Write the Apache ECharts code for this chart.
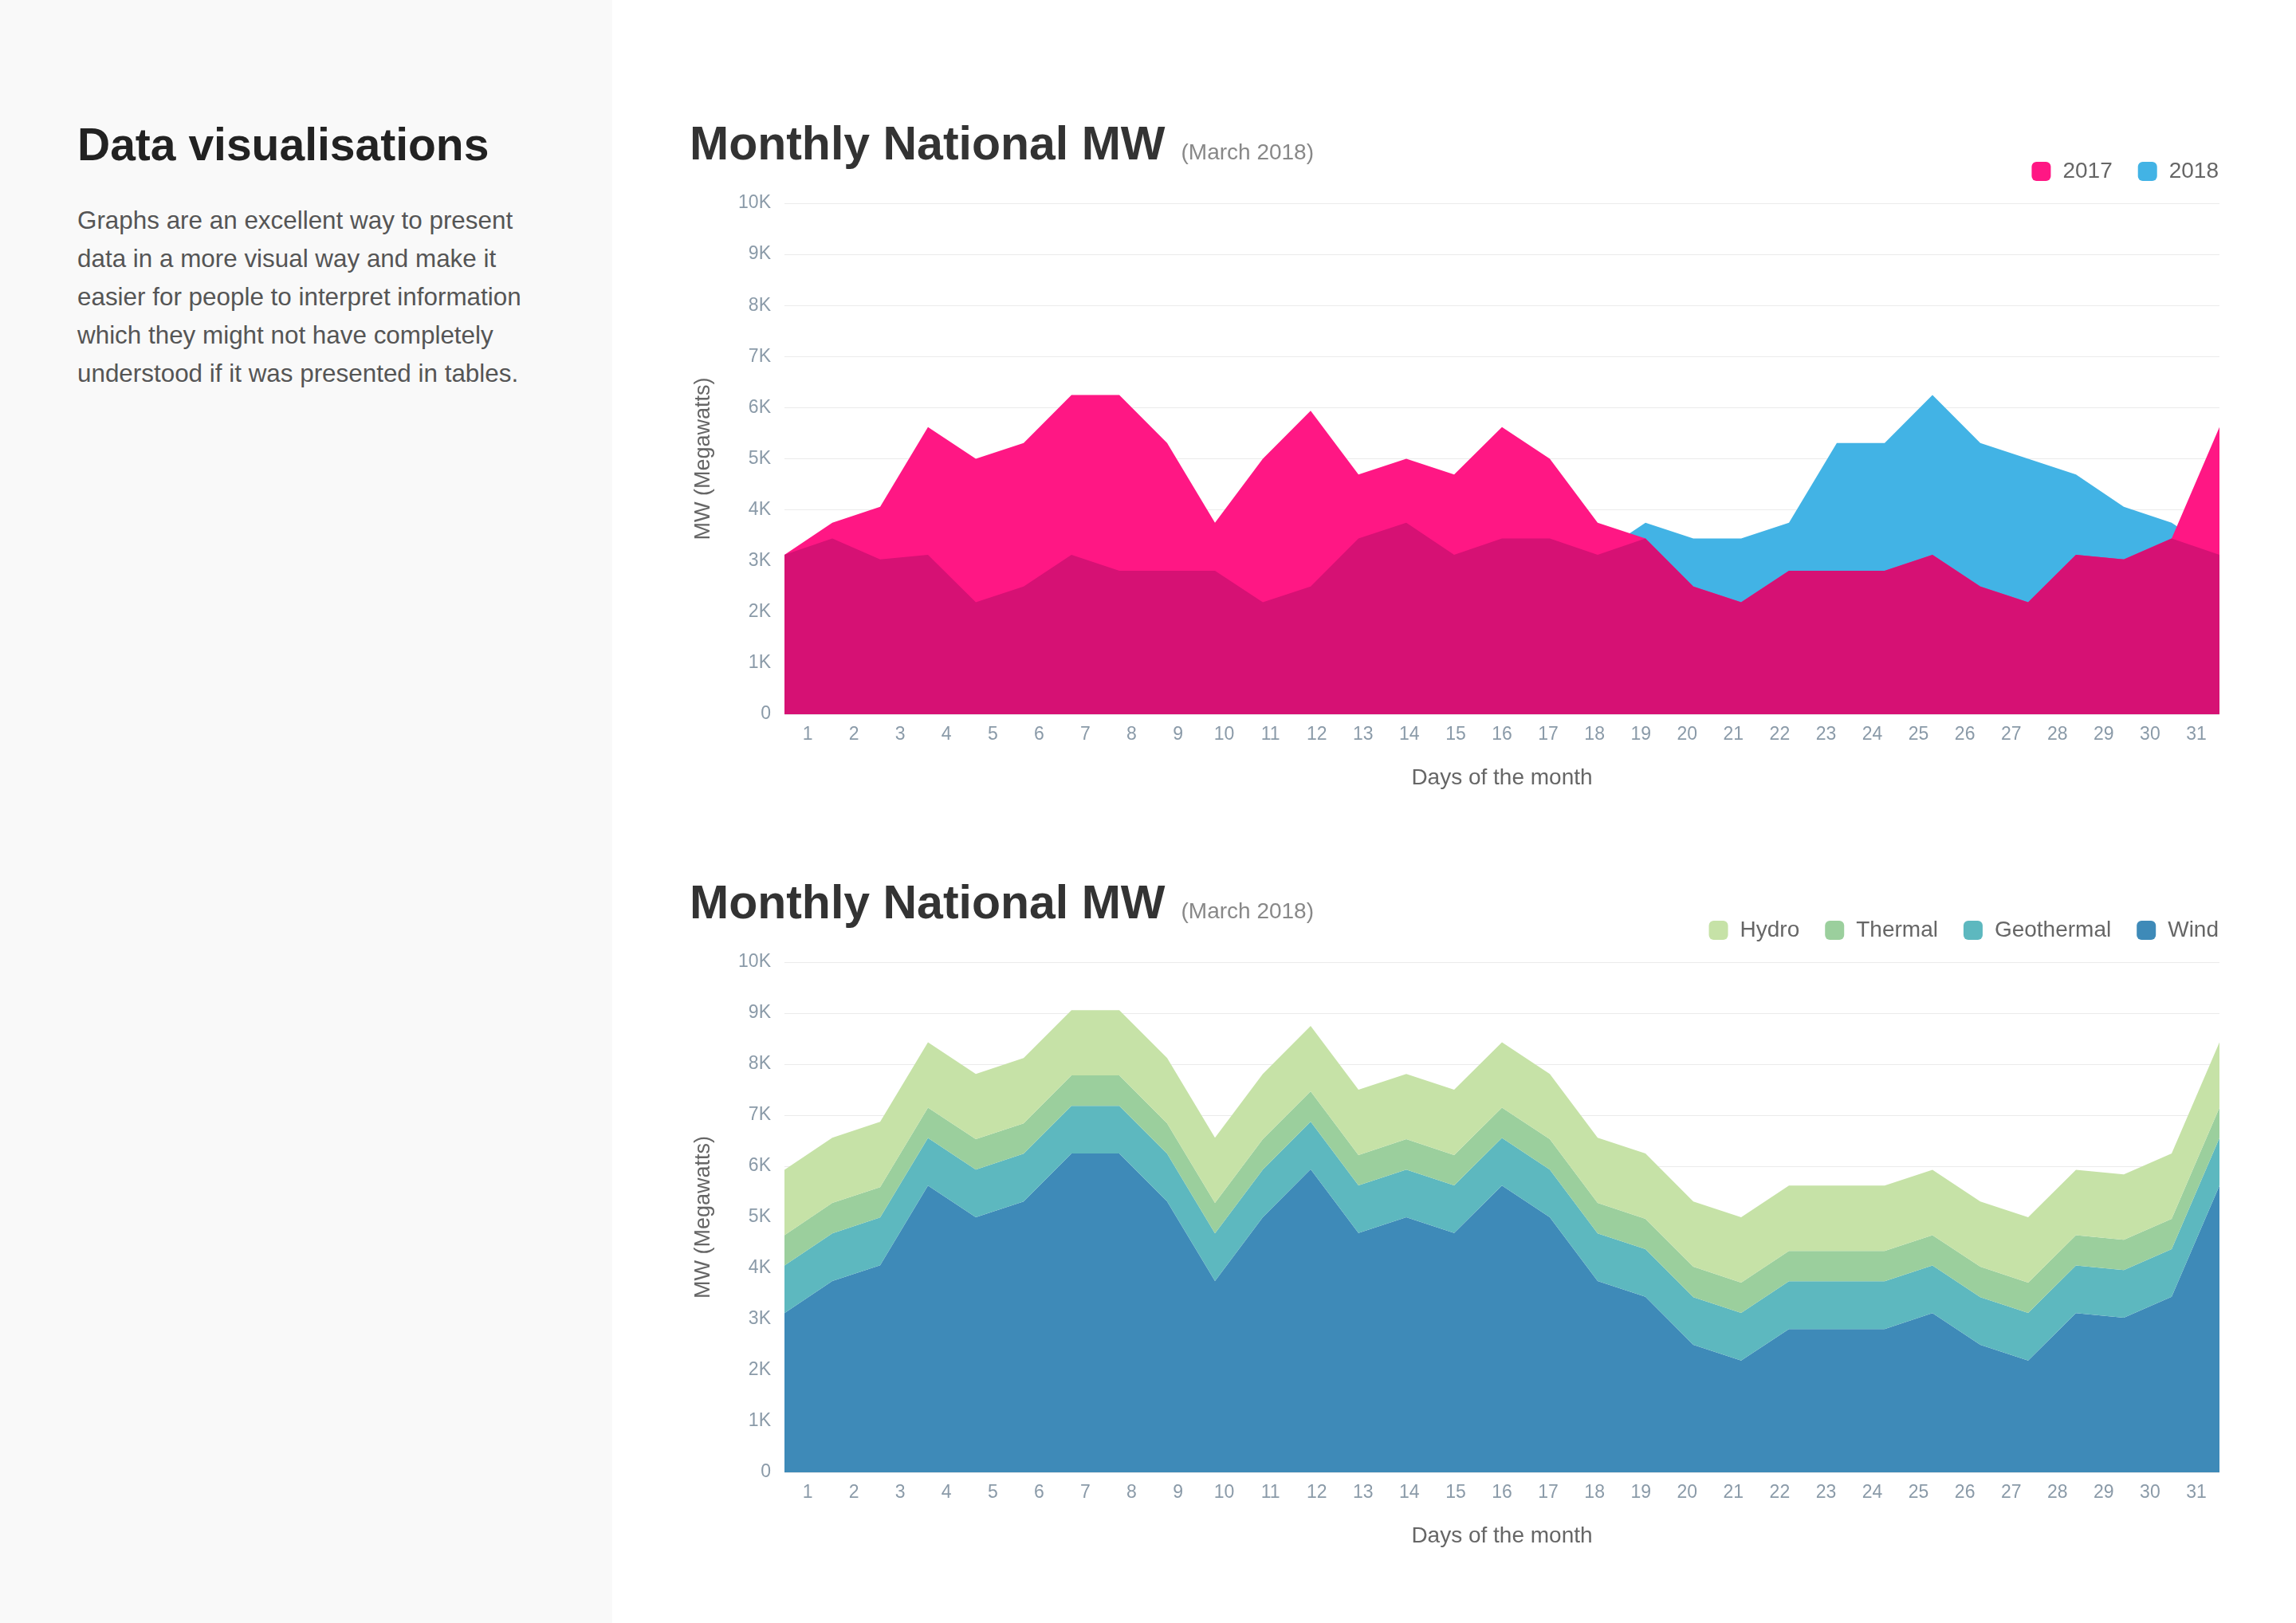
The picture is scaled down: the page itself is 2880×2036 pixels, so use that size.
<!DOCTYPE html>
<html>
<head>
<meta charset="utf-8">
<title>Monthly National MW</title>
<script src="https://cdn.jsdelivr.net/npm/echarts@6/dist/echarts.min.js"></script>
<style>
  html, body { margin: 0; padding: 0; background: #fff; }
  body { width: 2880px; height: 2036px; position: relative; overflow: hidden;
         font-family: "Liberation Sans", "Helvetica Neue", Helvetica, Arial, sans-serif; }
  .side { position: absolute; left: 0; top: 0; width: 768px; height: 2036px; background: #f9f9f9; }
  .side h1 { position: absolute; left: 97px; top: 153px; margin: 0; font-size: 57px; line-height: 57px;
             font-weight: bold; color: #222; }
  .side p { position: absolute; left: 97px; top: 253px; margin: 0; font-size: 31.4px; line-height: 48px; color: #555; }
  .ctitle { position: absolute; left: 865px; margin: 0; font-size: 59px; line-height: 59px; font-weight: bold;
            color: #333; white-space: nowrap; z-index: 2; }
  .ctitle span { font-size: 28px; font-weight: normal; color: #888; margin-left: 20px; }
  #chart { position: absolute; left: 768px; top: 0; width: 2112px; height: 2036px; }
</style>
</head>
<body>
<div class="side">
  <h1>Data visualisations</h1>
  <p>Graphs are an excellent way to present<br>data in a more visual way and make it<br>easier for people to interpret information<br>which they might not have completely<br>understood if it was presented in tables.</p>
</div>
<div id="chart"></div>
<h2 class="ctitle" style="top:151px">Monthly National MW<span>(March 2018)</span></h2>
<h2 class="ctitle" style="top:1103px">Monthly National MW<span>(March 2018)</span></h2>
<script>
// days of March
const days = ['1','2','3','4','5','6','7','8','9','10','11','12','13','14','15','16',
  '17','18','19','20','21','22','23','24','25','26','27','28','29','30','31'];

// top chart: 2017 vs 2018 (MW)
const mw2017 = [3120,3750,4060,5620,5000,5310,6250,6250,5310,3750,5000,5940,4690,5000,4690,5620,
  5000,3750,3440,2500,2190,2810,2810,2810,3120,2500,2190,3120,3030,3440,5620];
const mw2018 = [3120,3440,3030,3120,2190,2500,3120,2810,2810,2810,2190,2500,3440,3750,3120,3440,
  3440,3120,3750,3440,3440,3750,5310,5310,6250,5310,5000,4690,4060,3750,3120];
// darker band where both years overlap
const mwOverlap = [3120,3440,3030,3120,2190,2500,3120,2810,2810,2810,2190,2500,3440,3750,3120,3440,
  3440,3120,3440,2500,2190,2810,2810,2810,3120,2500,2190,3120,3030,3440,3120];

// bottom chart: generation by source (MW, stacked)
const wind = [3120,3750,4060,5620,5000,5310,6250,6250,5310,3750,5000,5940,4690,5000,4690,5620,
  5000,3750,3440,2500,2190,2810,2810,2810,3120,2500,2190,3120,3030,3440,5620];
const geothermal = [935,935,935,935,935,935,935,935,935,935,935,935,935,935,935,935,
  935,935,935,935,935,935,935,935,935,935,935,935,935,935,935];
const thermal = [595,595,595,595,595,595,595,595,595,595,595,595,595,595,595,595,
  595,595,595,595,595,595,595,595,595,595,595,595,595,595,595];
const hydro = [1280,1280,1280,1280,1280,1280,1280,1280,1280,1280,1280,1280,1280,1280,1280,1280,
  1280,1280,1280,1280,1280,1280,1280,1280,1280,1280,1280,1280,1280,1280,1280];

const yTicks = {min: 0, max: 10000, interval: 1000};

const FONT = '"Liberation Sans", "Helvetica Neue", Helvetica, Arial, sans-serif';
const TICK_COLOR = '#8a9aa8';

const C = {
  y2017: '#ff1784', y2018: '#42b3e5', overlap: '#d61174',
  hydro: '#c6e2a7', thermal: '#9bcf9d', geothermal: '#5db8bf', wind: '#3e8ab8'
};

const myChart = echarts.init(document.getElementById('chart'), null, {renderer: 'canvas'});

function labelAxis(gridIndex) {
  return {
    type: 'category', gridIndex, data: days, boundaryGap: true,
    axisLine: {show: false}, axisTick: {show: false},
    axisLabel: {color: TICK_COLOR, fontSize: 23, fontFamily: FONT, margin: 14, interval: 0},
    name: 'Days of the month', nameLocation: 'middle', nameGap: 66,
    nameTextStyle: {color: '#666', fontSize: 28, fontFamily: FONT}
  };
}
function dataAxis(gridIndex) {
  return {type: 'category', gridIndex, data: days, boundaryGap: false, show: false};
}
function valueAxis(gridIndex) {
  return {
    type: 'value', gridIndex, min: yTicks.min, max: yTicks.max, interval: yTicks.interval,
    axisLine: {show: false}, axisTick: {show: false},
    axisLabel: {
      color: TICK_COLOR, fontSize: 23, fontFamily: FONT, margin: 17,
      formatter: v => v === 0 ? '0' : (v / 1000) + 'K'
    },
    splitLine: {lineStyle: {color: '#ebebeb', width: 1}},
    name: 'MW (Megawatts)', nameLocation: 'middle', nameRotate: 90, nameGap: 88,
    nameTextStyle: {color: '#666', fontSize: 27, fontFamily: FONT}
  };
}
function area(name, data, color, xAxisIndex, yAxisIndex, stack) {
  return {
    name, type: 'line', data, xAxisIndex, yAxisIndex, stack,
    showSymbol: false, symbol: 'none', silent: true,
    lineStyle: {width: 0}, itemStyle: {color},
    areaStyle: {color, opacity: 1}
  };
}
const legendBase = {
  orient: 'horizontal', right: 92, icon: 'roundRect', itemWidth: 24, itemHeight: 24, itemGap: 32,
  textStyle: {color: '#666', fontSize: 28, fontFamily: FONT, padding: [0, 0, 0, 10]},
  selectedMode: false
};

const option = {
  animation: false,
  grid: [
    {left: 216, width: 1800, top: 255, height: 641},
    {left: 216, width: 1800, top: 1207, height: 640}
  ],
  legend: [
    Object.assign({}, legendBase, {top: 196, data: ['2017', '2018']}),
    Object.assign({}, legendBase, {top: 1148, data: ['Hydro', 'Thermal', 'Geothermal', 'Wind']})
  ],
  xAxis: [labelAxis(0), dataAxis(0), labelAxis(1), dataAxis(1)],
  yAxis: [valueAxis(0), valueAxis(1)],
  series: [
    area('2018', mw2018, C.y2018, 1, 0),
    area('2017', mw2017, C.y2017, 1, 0),
    area('overlap', mwOverlap, C.overlap, 1, 0),
    area('Wind', wind, C.wind, 3, 1, 'mw'),
    area('Geothermal', geothermal, C.geothermal, 3, 1, 'mw'),
    area('Thermal', thermal, C.thermal, 3, 1, 'mw'),
    area('Hydro', hydro, C.hydro, 3, 1, 'mw')
  ]
};
myChart.setOption(option);
</script>
</body>
</html>
